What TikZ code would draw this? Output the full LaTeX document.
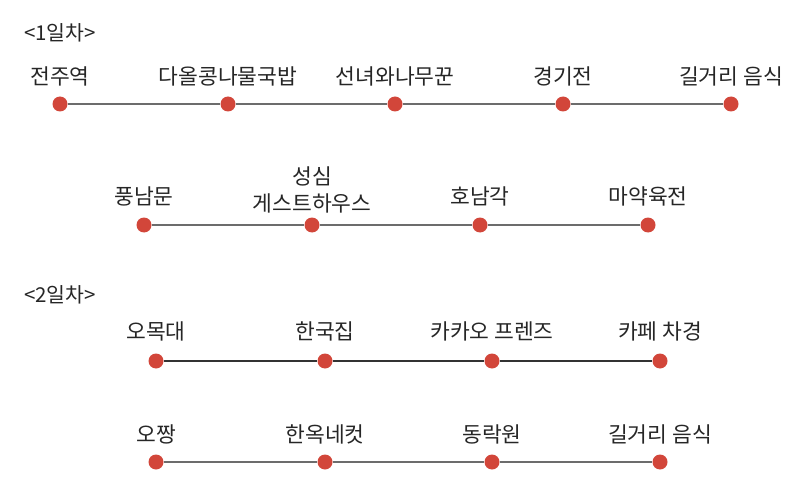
\documentclass[tikz,border=0pt]{standalone}
\usepackage{fontspec}
\setmainfont{Noto Sans CJK KR}
\begin{document}
\begin{tikzpicture}[x=1pt,y=-1pt,
  stop/.style={circle,fill=dotred,inner sep=0pt,minimum size=15pt},
  lbl/.style={font=\fontsize{21.5}{26}\selectfont,text=black!85,inner sep=0pt,anchor=center},
  track/.style={draw=gray!85!black,line width=1.2pt}]
\definecolor{dotred}{HTML}{D2463A}
\useasboundingbox (0,0) rectangle (800,497);
\node[lbl,font=\fontsize{20.5}{24}\selectfont] (d1) at (60,33) {<1일차>};
\node[lbl,font=\fontsize{20.5}{24}\selectfont] (d2) at (60,295) {<2일차>};
% row 1
\foreach \n/\x/\t in {a1/60/전주역,a2/228/다올콩나물국밥,a3/395/선녀와나무꾼,a4/563/경기전,a5/731/길거리 음식}{
  \node[stop] (\n) at (\x,104) {};
  \node[lbl] (\n t) at (\x,76) {\t};
}
\draw[track] (a1) -- (a2) -- (a3) -- (a4) -- (a5);
% row 2
\foreach \n/\x/\t in {b1/144/풍남문,b3/480/호남각,b4/648/마약육전}{
  \node[stop] (\n) at (\x,225) {};
  \node[lbl] (\n t) at (\x,196) {\t};
}
\node[stop] (b2) at (312,225) {};
\node[lbl] (b2t) at (312,176) {성심};
\node[lbl] (b2u) at (312,203) {게스트하우스};
\draw[track] (b1) -- (b2) -- (b3) -- (b4);
% row 3
\foreach \n/\x/\t in {c1/156/오목대,c2/325/한국집,c3/492/카카오 프렌즈,c4/660/카페 차경}{
  \node[stop] (\n) at (\x,361) {};
  \node[lbl] (\n t) at (\x,331) {\t};
}
\draw[track,draw=black!80] (c1) -- (c2) -- (c3) -- (c4);
% row 4
\foreach \n/\x/\t in {e1/156/오짱,e2/325/한옥네컷,e3/492/동락원,e4/660/길거리 음식}{
  \node[stop] (\n) at (\x,462) {};
  \node[lbl] (\n t) at (\x,434) {\t};
}
\draw[track] (e1) -- (e2) -- (e3) -- (e4);
\end{tikzpicture}
\end{document}
